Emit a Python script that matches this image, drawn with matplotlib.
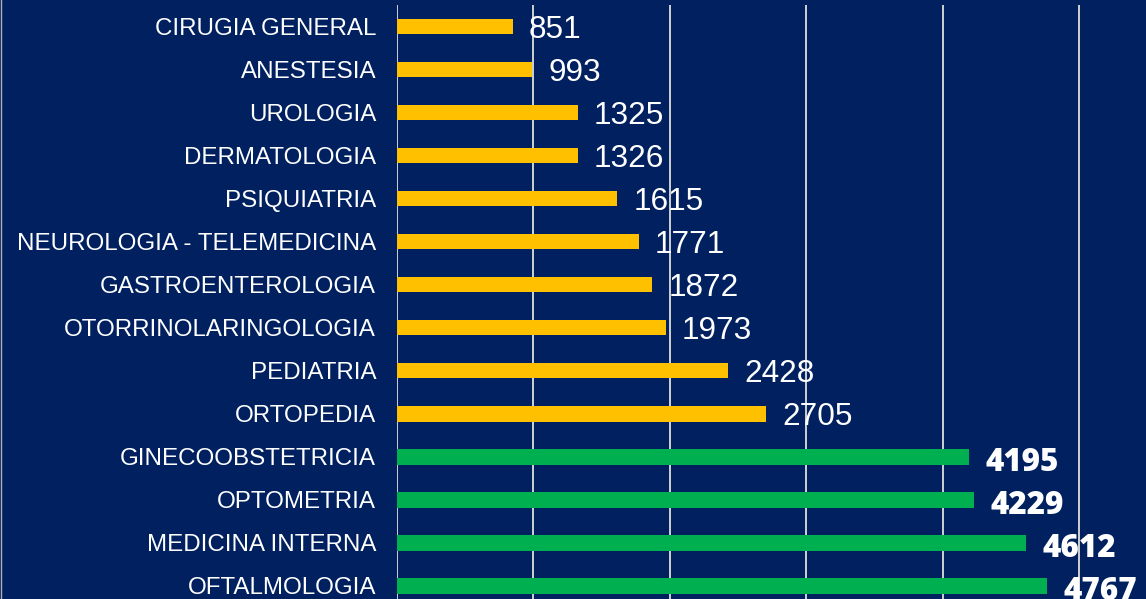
import matplotlib.pyplot as plt
from matplotlib.lines import Line2D

# especialidades, de arriba hacia abajo
especialidades = ['CIRUGIA GENERAL', 'ANESTESIA', 'UROLOGIA', 'DERMATOLOGIA',
                  'PSIQUIATRIA', 'NEUROLOGIA - TELEMEDICINA', 'GASTROENTEROLOGIA',
                  'OTORRINOLARINGOLOGIA', 'PEDIATRIA', 'ORTOPEDIA',
                  'GINECOOBSTETRICIA', 'OPTOMETRIA', 'MEDICINA INTERNA', 'OFTALMOLOGIA']
consultas = [851, 993, 1325, 1326, 1615, 1771, 1872, 1973, 2428, 2705,
             4195, 4229, 4612, 4767]
destacadas = [False] * 10 + [True] * 4

fondo = '#002060'
amarillo = '#FFC000'
verde = '#00B050'


def main():
	fig = plt.figure(figsize=(11.46, 5.99), dpi=100, facecolor=fondo)
	# axes cropped at the bottom like the original slide capture
	ax = fig.add_axes([397 / 1146, -8.4 / 599, 749 / 1146, 602.4 / 599])
	ax.set_facecolor(fondo)

	pos = list(range(len(especialidades)))
	colores = [verde if d else amarillo for d in destacadas]
	ax.barh(pos, consultas, height=0.36, color=colores, zorder=3)

	ax.set_xlim(0, 5491)
	ax.set_ylim(len(pos) - 0.5, -0.5)

	ax.set_xticks([0, 1000, 2000, 3000, 4000, 5000])
	ax.grid(axis='x', color='#D0D0D0', linewidth=1.4, zorder=0)
	ax.tick_params(axis='x', length=0, labelbottom=False)
	ax.tick_params(axis='y', length=0, pad=15)
	ax.set_yticks(pos)
	ax.set_yticklabels(especialidades, color='white', fontsize=17.4,
	                   family='Liberation Sans')
	for s in ax.spines.values():
		s.set_visible(False)

	#etiquetas de valor
	for i, (v, d) in enumerate(zip(consultas, destacadas)):
		if d:
			ax.annotate(str(v), (v, i), xytext=(12, -4.7), textcoords='offset points',
			            va='center', ha='left', color='white', fontsize=22.6,
			            family='Open Sans', fontweight='heavy', annotation_clip=False)
		else:
			ax.annotate(str(v), (v, i), xytext=(11.5, -2.3), textcoords='offset points',
			            va='center', ha='left', color='white', fontsize=22.7,
			            family='Liberation Sans', annotation_clip=False)

	fig.add_artist(Line2D([0.0005, 0.0005], [0, 1], color='#B0B0B0', linewidth=1))

	fig.savefig('out.png', dpi=100, facecolor=fondo)


if __name__ == '__main__':
	main()
